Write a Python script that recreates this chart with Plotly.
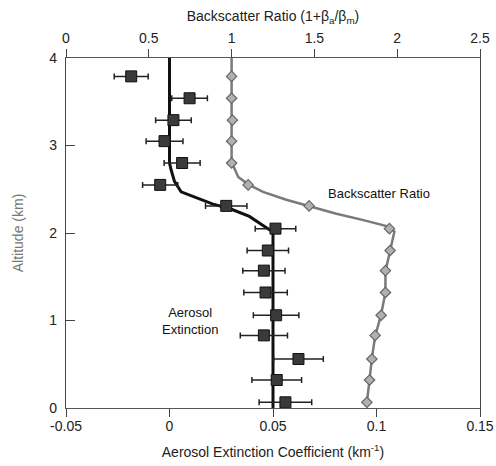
import plotly.graph_objects as go

# Altitudes of the measured points (km)
altitude = [3.79, 3.54, 3.29, 3.05, 2.80, 2.55, 2.31, 2.05, 1.80, 1.57, 1.32, 1.06, 0.83, 0.56, 0.32, 0.065]

# Aerosol extinction coefficient (km^-1) and its uncertainty
extinction = [-0.0185, 0.0097, 0.0019, -0.0024, 0.0061, -0.0045, 0.0274, 0.0512,
              0.0475, 0.0456, 0.0464, 0.0515, 0.0456, 0.0623, 0.0518, 0.0560]
extinction_err = [0.0082, 0.0086, 0.0086, 0.0089, 0.0087, 0.0085, 0.0100, 0.0098,
                  0.0100, 0.0102, 0.0105, 0.0110, 0.0114, 0.0120, 0.0120, 0.0127]

# Backscatter ratio at the same altitudes
backscatter = [1.00, 1.00, 1.005, 1.00, 1.00, 1.10, 1.468, 1.953,
               1.957, 1.929, 1.929, 1.903, 1.867, 1.847, 1.833, 1.817]

# Smooth model profiles
ext_line_alt = [4.0, 2.80, 2.72, 2.59, 2.47, 2.40, 2.33, 2.28, 2.19, 2.09, 2.01, 0.0]
ext_line_val = [0.0, 0.0, 0.0008, 0.0024, 0.0056, 0.0129, 0.021, 0.029, 0.0386, 0.045, 0.050, 0.050]

bsr_line_alt = [4.0, 2.80, 2.76, 2.64, 2.556, 2.47, 2.38, 2.31, 2.22, 2.15, 2.07, 2.015,
                1.806, 1.56, 1.32, 1.07, 0.82, 0.57, 0.32, 0.07]
bsr_line_val = [1.0, 1.0, 1.012, 1.04, 1.10, 1.19, 1.33, 1.468, 1.633, 1.79, 1.953, 1.983,
                1.957, 1.929, 1.929, 1.903, 1.867, 1.847, 1.833, 1.817]

x_ticks = [-0.05, 0, 0.05, 0.1, 0.15]
x_ticklabels = ["-0.05", "0", "0.05", "0.1", "0.15"]
x2_ticks = [0, 0.5, 1, 1.5, 2, 2.5]
x2_ticklabels = ["0", "0.5", "1", "1.5", "2", "2.5"]
y_ticks = [0, 1, 2, 3, 4]

FONT = "Liberation Sans, Arial, sans-serif"

fig = go.Figure()

fig.add_trace(go.Scatter(
    x=ext_line_val, y=ext_line_alt, mode="lines",
    line=dict(color="#111111", width=3), xaxis="x", yaxis="y",
    showlegend=False, hoverinfo="skip"))

fig.add_trace(go.Scatter(
    x=extinction, y=altitude, mode="markers",
    marker=dict(symbol="square", size=11, color="#3a3a3a",
                line=dict(color="#111111", width=1)),
    error_x=dict(type="data", array=extinction_err, visible=True,
                 color="#222222", thickness=1.5, width=3),
    xaxis="x", yaxis="y", showlegend=False))

fig.add_trace(go.Scatter(
    x=bsr_line_val, y=bsr_line_alt, mode="lines",
    line=dict(color="#7a7a7a", width=2.5), xaxis="x2", yaxis="y",
    showlegend=False, hoverinfo="skip"))

fig.add_trace(go.Scatter(
    x=backscatter, y=altitude, mode="markers",
    marker=dict(symbol="diamond", size=8, color="#b0b0b0",
                line=dict(color="#666666", width=1.2)),
    xaxis="x2", yaxis="y", showlegend=False))

fig.add_annotation(x=0.0097, y=1.0, xref="x", yref="y",
                   text="Aerosol<br>Extinction", showarrow=False,
                   font=dict(family=FONT, size=13, color="#111111"), align="center")
fig.add_annotation(x=0.1014, y=2.45, xref="x", yref="y",
                   text="Backscatter Ratio", showarrow=False,
                   font=dict(family=FONT, size=13, color="#111111"))

tickfont = dict(family=FONT, size=14, color="#222222")

fig.update_layout(
    width=496, height=466,
    margin=dict(l=66, r=16, t=58, b=58),
    paper_bgcolor="white", plot_bgcolor="white",
    font=dict(family=FONT, size=14, color="#222222"),
    xaxis=dict(range=[-0.05, 0.15], tickvals=x_ticks, ticktext=x_ticklabels,
               ticks="outside", ticklen=8, tickcolor="#444444", tickwidth=1,
               showline=True, linecolor="#555555", linewidth=1, mirror=False,
               showgrid=False, zeroline=False, tickfont=tickfont, automargin=False,
               ticklabelstandoff=-3,
               title=dict(text="Aerosol Extinction Coefficient (km<sup>-1</sup>)",
                          font=dict(family=FONT, size=14, color="#222222"), standoff=14)),
    xaxis2=dict(range=[0, 2.5], tickvals=x2_ticks, ticktext=x2_ticklabels,
                overlaying="x", side="top", anchor="y", automargin=False,
                ticks="outside", ticklen=8, tickcolor="#444444", tickwidth=1,
                showline=True, linecolor="#555555", linewidth=1,
                showgrid=False, zeroline=False, tickfont=tickfont,
                title=dict(text="Backscatter Ratio (1+β<sub>a</sub>/β<sub>m</sub>)",
                           font=dict(family=FONT, size=14, color="#222222"), standoff=5)),
    xaxis3=dict(range=[-0.05, 0.15], tickvals=x_ticks, overlaying="x", side="bottom",
                anchor="y", ticks="inside", ticklen=4, tickcolor="#444444", automargin=False,
                showticklabels=False, showline=False, showgrid=False, zeroline=False),
    xaxis4=dict(range=[0, 2.5], tickvals=x2_ticks, overlaying="x", side="top",
                anchor="y", ticks="inside", ticklen=3, tickcolor="#444444", automargin=False,
                showticklabels=False, showline=False, showgrid=False, zeroline=False),
    yaxis=dict(range=[0, 4], tickvals=y_ticks, ticks="inside", ticklen=9,
               tickcolor="#444444", showline=True, linecolor="#444444", linewidth=1.2,
               mirror=True, showgrid=False, zeroline=False, tickfont=tickfont,
               automargin=False, ticklabelstandoff=5,
               title=dict(text="Altitude (km)",
                          font=dict(family=FONT, size=14, color="#777777"), standoff=22)),
)

fig.write_html("out.html", config={"displayModeBar": False},
               post_script="document.body.style.margin='0';")
